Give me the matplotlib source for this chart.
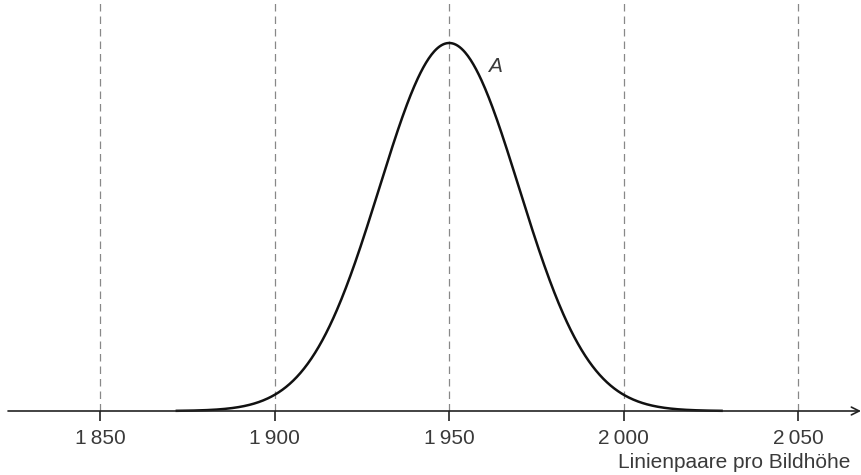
import numpy as np
import matplotlib
matplotlib.use("Agg")
import matplotlib.pyplot as plt

# data
mu = 1950.0
sigma = 20.0
curve_start = 1872.0
curve_end = 2028.0
tick_values = [1850, 1900, 1950, 2000, 2050]
tick_labels = ["1\u2009850", "1\u2009900", "1\u2009950", "2\u2009000", "2\u2009050"]
axis_label = "Linienpaare pro Bildhöhe"
curve_label = "A"

plt.rcParams['font.family'] = ['Liberation Sans', 'DejaVu Sans']

fig = plt.figure(figsize=(8.62, 4.75), dpi=100)
ax = fig.add_axes([0, 0, 1, 1])
px_per_unit = 174.6 / 50
x0 = 1850 - 100 / px_per_unit
ax.set_xlim(x0, x0 + 862 / px_per_unit)
peak_px = 368.0
ax.set_ylim(-(475 - 411) / peak_px, 411 / peak_px)

x = np.linspace(curve_start, curve_end, 600)
y = np.exp(-0.5 * ((x - mu) / sigma) ** 2)

# dashed grid lines
ax.vlines(tick_values, 0, 411 / peak_px, colors='#888888', linewidth=0.9,
          linestyles=(0, (6, 4)))

# x axis with arrow
xmin_axis = x0 + 8 / px_per_unit
xmax_axis = x0 + 861 / px_per_unit
ax.annotate('', xy=(xmax_axis, 0), xytext=(xmin_axis, 0),
            arrowprops=dict(arrowstyle='->', color='#222222', lw=1.2,
                            mutation_scale=14, shrinkA=0, shrinkB=0))

# ticks
tick_len = 10 / peak_px
ax.vlines(tick_values, -tick_len, 0, colors='#222222', linewidth=1.2)
for tv, tl in zip(tick_values, tick_labels):
    ax.text(tv, -28 / peak_px, tl, ha='center', va='center', fontsize=15,
            color='#3a3a3a')

ax.text(x0 + 850 / px_per_unit, -52 / peak_px, axis_label, ha='right',
        va='center', fontsize=15, color='#3a3a3a')

ax.plot(x, y, color='#111111', linewidth=1.8)
ax.text(x0 + 495 / px_per_unit, (411 - 66) / peak_px, curve_label,
        fontsize=15, style='italic', color='#3a3a3a', ha='center', va='center')

ax.axis('off')
fig.savefig('out.png', dpi=100)
